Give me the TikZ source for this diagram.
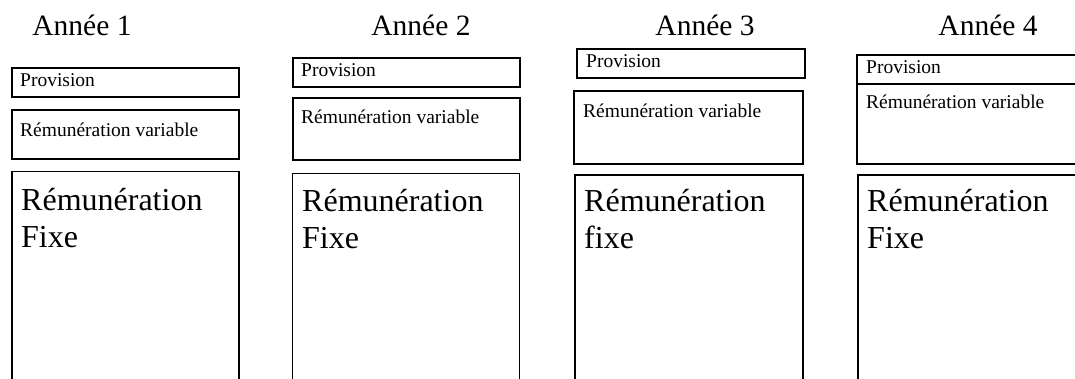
\documentclass[tikz,border=0pt]{standalone}
\usepackage{fontspec}
\setmainfont{Liberation Serif}
\begin{document}
\begin{tikzpicture}[x=1pt,y=-1pt,
  box/.style={draw=black, line width=1.6pt, rectangle, inner sep=0pt, anchor=north west},
  small/.style={font=\fontsize{19.5}{23}\selectfont, anchor=base west, inner sep=0pt},
  big/.style={font=\fontsize{32}{37}\selectfont, anchor=base west, inner sep=0pt},
  ttl/.style={font=\fontsize{29.5}{34}\selectfont, anchor=base, inner sep=0pt}]
\useasboundingbox (0,0) rectangle (1075,378);
\clip (0,0) rectangle (1075,378);
% Column 1
\node[ttl] (a1) at (82,35) {Année 1};
\node[box, minimum width=227pt, minimum height=29pt] (p1) at (11,67) {};
\node[small] (pt1) at (20,86) {Provision};
\node[box, minimum width=227pt, minimum height=49pt] (v1) at (11,109) {};
\node[small] (vt1) at (20,136) {Rémunération variable};
\node[box, minimum width=227pt, minimum height=240pt] (f1) at (11,170.5) {};
\node[big] (ft1) at (21,210) {\vtop{\hbox{Rémunération}\hbox{Fixe}}};
% Column 2
\node[ttl] (a2) at (421,35) {Année 2};
\node[box, minimum width=227pt, minimum height=29pt] (p2) at (292,57) {};
\node[small] (pt2) at (301,76) {Provision};
\node[box, minimum width=227pt, minimum height=62pt] (v2) at (292,97) {};
\node[small] (vt2) at (301,123) {Rémunération variable};
\node[box, minimum width=227pt, minimum height=240pt] (f2) at (291.5,172.5) {};
\node[big] (ft2) at (302,211) {\vtop{\hbox{Rémunération}\hbox{Fixe}}};
% Column 3
\node[ttl] (a3) at (705,35) {Année 3};
\node[box, minimum width=228pt, minimum height=29pt] (p3) at (576,48) {};
\node[small] (pt3) at (586,67) {Provision};
\node[box, minimum width=229pt, minimum height=73pt] (v3) at (573,90) {};
\node[small] (vt3) at (583,117) {Rémunération variable};
\node[box, minimum width=228pt, minimum height=240pt] (f3) at (574,174) {};
\node[big] (ft3) at (584,211) {\vtop{\hbox{Rémunération}\hbox{fixe}}};
% Column 4
\node[ttl] (a4) at (988,35) {Année 4};
\node[box, minimum width=240pt, minimum height=29pt] (p4) at (856,54) {};
\node[small] (pt4) at (866,73) {Provision};
\node[box, minimum width=240pt, minimum height=80pt] (v4) at (856,83) {};
\node[small] (vt4) at (866,108) {Rémunération variable};
\node[box, minimum width=240pt, minimum height=240pt] (f4) at (857,174) {};
\node[big] (ft4) at (867,211) {\vtop{\hbox{Rémunération}\hbox{Fixe}}};
\end{tikzpicture}
\end{document}
